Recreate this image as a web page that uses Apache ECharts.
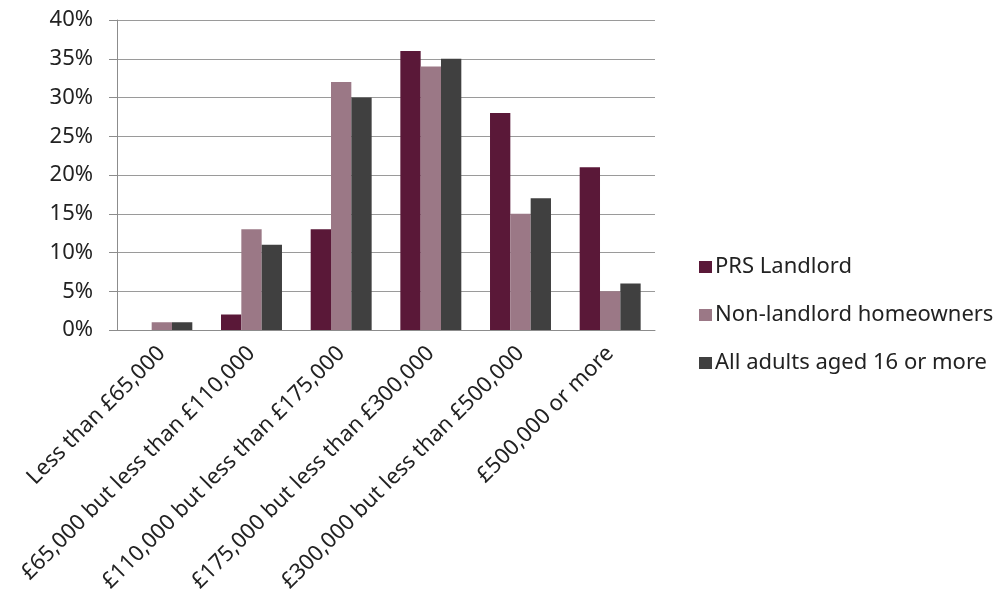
<!DOCTYPE html>
<html><head><meta charset="utf-8">
<script src="https://cdn.jsdelivr.net/npm/echarts@6/dist/echarts.min.js"></script>
<style>html,body{margin:0;padding:0;background:#fff}#c{width:1005px;height:614px}</style>
</head><body><div id="c"></div>
<script>
const categories = ["Less than £65,000","£65,000 but less than £110,000","£110,000 but less than £175,000","£175,000 but less than £300,000","£300,000 but less than £500,000","£500,000 or more"];
const seriesNames = ["PRS Landlord","Non-landlord homeowners","All adults aged 16 or more"];
const prsLandlord = [0, 2, 13, 36, 28, 21];
const nonLandlord = [1, 13, 32, 34, 15, 5];
const allAdults = [1, 11, 30, 35, 17, 6];
const colors = ["#5a1838","#9b7886","#404040"];
const font = "Noto Sans";
const chart = echarts.init(document.getElementById('c'));
chart.setOption({
  animation:false,
  color: colors,
  grid:{left:117,right:350,top:20,bottom:284,containLabel:false},
  legend:{orient:'vertical',left:694,top:251,itemWidth:13,itemHeight:12,itemGap:26,icon:'rect',
    textStyle:{fontFamily:font,fontSize:22,lineHeight:22,color:'#222',padding:[0,0,0,-2]},data:seriesNames},
  xAxis:{type:'category',data:categories,
    axisLine:{lineStyle:{color:'#8c8c8c'}},
    axisTick:{alignWithLabel:false,length:8,lineStyle:{color:'#8c8c8c'}},
    axisLabel:{rotate:45,interval:0,fontFamily:font,fontSize:22,color:'#222',margin:20}},
  yAxis:{type:'value',min:0,max:40,interval:5,
    axisLine:{show:true,lineStyle:{color:'#8c8c8c'}},
    axisTick:{show:true,length:8,lineStyle:{color:'#8c8c8c'}},
    splitLine:{lineStyle:{color:'#9a9a9a'}},
    axisLabel:{formatter:'{value}%',fontFamily:font,fontSize:22,color:'#222',margin:24}},
  series:[
    {name:seriesNames[0],type:'bar',data:prsLandlord,barGap:'0%',barCategoryGap:'32%'},
    {name:seriesNames[1],type:'bar',data:nonLandlord,barGap:'0%',barCategoryGap:'32%'},
    {name:seriesNames[2],type:'bar',data:allAdults,barGap:'0%',barCategoryGap:'32%'}
  ]
});
</script></body></html>
